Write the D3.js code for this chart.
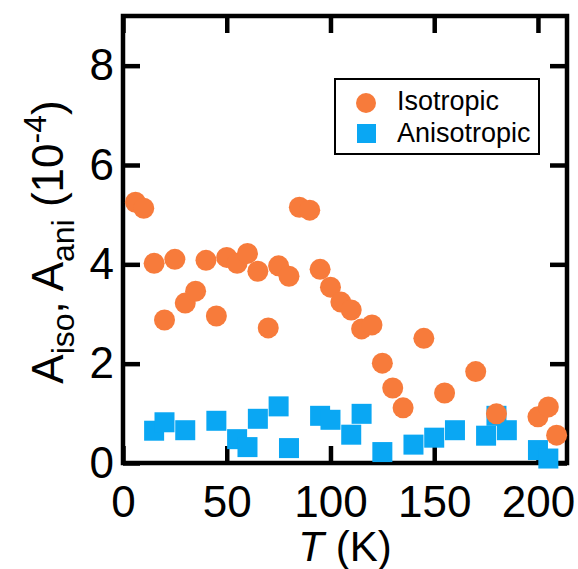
<!DOCTYPE html>
<html>
<head>
<meta charset="utf-8">
<script src="https://cdn.jsdelivr.net/npm/d3@7/dist/d3.min.js"></script>
<style>
  html, body { margin: 0; padding: 0; background: #fff; }
  svg { display: block; font-family: "Liberation Sans", Arial, Helvetica, sans-serif; }
</style>
</head>
<body>
<svg id="chart" width="578" height="569"></svg>
<script>
// Isotropic amplitude vs temperature (T in K, A in 1e-4)
const isoT = [6, 10, 15, 20, 25, 30, 35, 40, 45, 50, 55, 60, 65, 70, 75, 80, 85, 90, 95, 100,
              105, 110, 115, 120, 125, 130, 135, 145, 155, 170, 180, 200, 205, 209];
const isoA = [5.25, 5.13, 4.02, 2.88, 4.10, 3.22, 3.46, 4.08, 2.96, 4.14, 4.02, 4.22, 3.86, 2.72, 3.97, 3.76, 5.15, 5.09, 3.90, 3.54,
              3.24, 3.08, 2.70, 2.78, 2.01, 1.51, 1.11, 2.51, 1.41, 1.84, 0.99, 0.93, 1.13, 0.56];

// Anisotropic amplitude vs temperature
const aniT = [15, 20, 30, 45, 55, 60, 65, 75, 80, 95, 100, 110, 115, 125, 140, 150, 160, 175, 180, 185, 200, 205];
const aniA = [0.65, 0.82, 0.66, 0.85, 0.48, 0.32, 0.89, 1.14, 0.30, 0.95, 0.87, 0.57, 0.99, 0.22, 0.37, 0.51, 0.66, 0.55, 0.95, 0.66, 0.26, 0.09];

const xTicks = [0, 50, 100, 150, 200];
const yTicks = [0, 2, 4, 6, 8];
const seriesNames = ["Isotropic", "Anisotropic"];
const seriesColors = ["#f77b3b", "#0aa7f3"];

const svg = d3.select("#chart");
const plotL = 123, plotR = 567, plotT = 16, plotB = 463;

const x = d3.scaleLinear().domain([0, 214]).range([plotL, plotR]);
const y = d3.scaleLinear().domain([0, 9]).range([plotB, plotT]);

const tickLen = 17;
const fontSize = 44;

// Axes with inward ticks
const gBottom = svg.append("g").attr("transform", `translate(0,${plotB})`)
  .call(d3.axisBottom(x).tickValues(xTicks).tickSizeInner(-tickLen).tickSizeOuter(0).tickPadding(23).tickFormat(d3.format("d")));
const gTop = svg.append("g").attr("transform", `translate(0,${plotT})`)
  .call(d3.axisTop(x).tickValues(xTicks).tickSizeInner(-tickLen).tickSizeOuter(0).tickFormat(""));
const gLeft = svg.append("g").attr("transform", `translate(${plotL},0)`)
  .call(d3.axisLeft(y).tickValues(yTicks).tickSizeInner(-tickLen).tickSizeOuter(0).tickPadding(9).tickFormat(d3.format("d")));
const gRight = svg.append("g").attr("transform", `translate(${plotR},0)`)
  .call(d3.axisRight(y).tickValues(yTicks).tickSizeInner(-tickLen).tickSizeOuter(0).tickFormat(""));

[gBottom, gTop, gLeft, gRight].forEach(g => {
  g.select(".domain").remove();
  g.selectAll(".tick line").attr("stroke", "#000").attr("stroke-width", 4.5);
  g.selectAll(".tick text").attr("fill", "#000").attr("font-size", fontSize)
    .attr("font-family", "'Liberation Sans', Arial, sans-serif");
});

// Frame
svg.append("rect")
  .attr("x", plotL).attr("y", plotT)
  .attr("width", plotR - plotL).attr("height", plotB - plotT)
  .attr("fill", "none").attr("stroke", "#000").attr("stroke-width", 4.5);

// Anisotropic squares
const sq = 20;
svg.append("g").selectAll("rect")
  .data(aniT.map((t, i) => ({ t, a: aniA[i] })))
  .join("rect")
  .attr("x", d => x(d.t) - sq / 2)
  .attr("y", d => y(d.a) - sq / 2)
  .attr("width", sq).attr("height", sq)
  .attr("fill", seriesColors[1]);

// Isotropic circles
svg.append("g").selectAll("circle")
  .data(isoT.map((t, i) => ({ t, a: isoA[i] })))
  .join("circle")
  .attr("cx", d => x(d.t))
  .attr("cy", d => y(d.a))
  .attr("r", 10.5)
  .attr("fill", seriesColors[0]);

// Legend
const lg = svg.append("g");
lg.append("rect").attr("x", 335).attr("y", 79).attr("width", 204).attr("height", 75)
  .attr("fill", "#fff").attr("stroke", "#000").attr("stroke-width", 2);
lg.append("circle").attr("cx", 366).attr("cy", 103).attr("r", 10).attr("fill", seriesColors[0]);
lg.append("rect").attr("x", 357).attr("y", 124).attr("width", 19).attr("height", 19).attr("fill", seriesColors[1]);
seriesNames.forEach((name, i) => {
  lg.append("text").attr("x", 397).attr("y", 110 + i * 32)
    .attr("font-size", 27).attr("fill", "#000").text(name);
});

// Y axis title
const yl = svg.append("text")
  .attr("transform", "translate(63,242) rotate(-90)")
  .attr("text-anchor", "middle")
  .attr("font-size", fontSize).attr("fill", "#000");
yl.append("tspan").text("A");
yl.append("tspan").attr("font-size", 32).attr("dy", 11).text("iso");
yl.append("tspan").attr("dy", -11).text(", A");
yl.append("tspan").attr("font-size", 32).attr("dy", 11).text("ani");
yl.append("tspan").attr("dy", -11).text(" (10");
yl.append("tspan").attr("font-size", 32).attr("dy", -17).text("-4");
yl.append("tspan").attr("dy", 17).text(")");

// X axis title
const xl = svg.append("text")
  .attr("x", (plotL + plotR) / 2).attr("y", 561)
  .attr("text-anchor", "middle")
  .attr("font-size", 42).attr("fill", "#000");
xl.append("tspan").attr("font-style", "italic").text("T");
xl.append("tspan").text(" (K)");
</script>
</body>
</html>
